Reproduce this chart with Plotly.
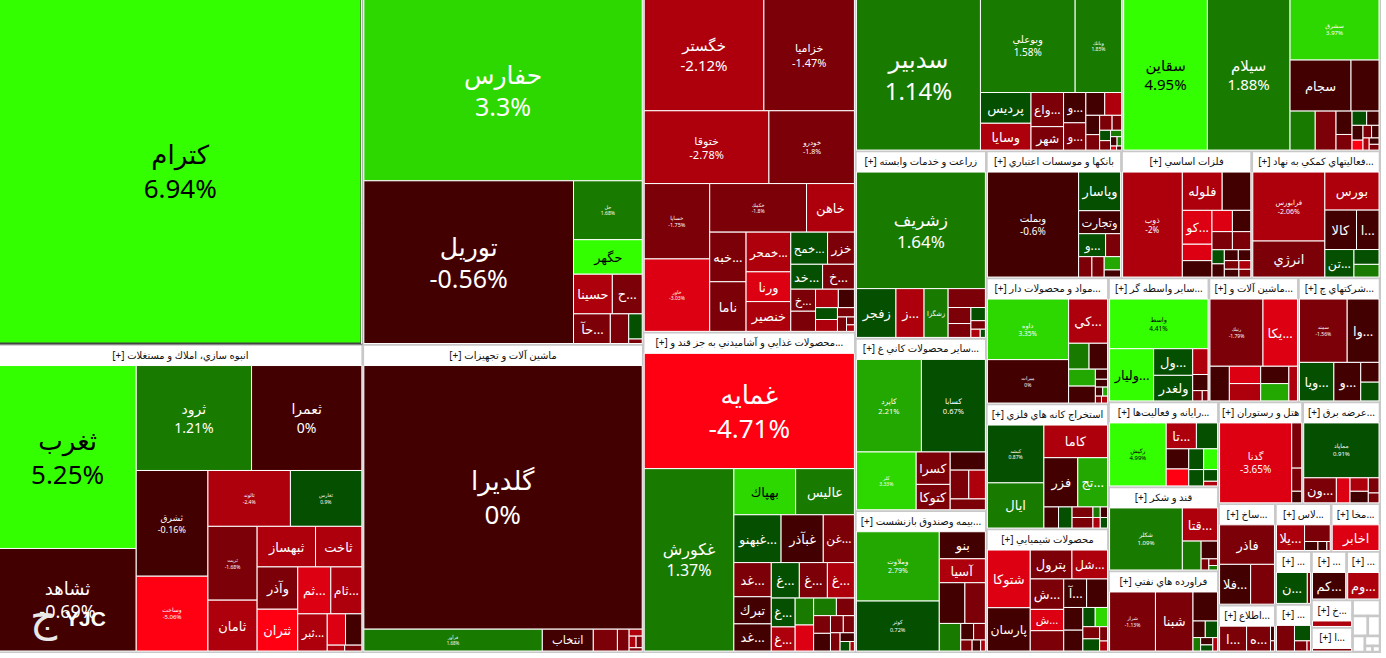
import plotly.graph_objects as go

# Market map of one trading day: sectors hold symbols, tile area is market value,
# tile colour is the daily change in percent.

# Values are market-value weights, changes are daily percentages.
s01_name = ""
s01_labels = ["كترام", "", ""]
s01_values = [123500, 82, 44]
s01_changes = [6.94, -1.5, 1.5]

s02_name = "انبوه سازي، املاك و مستغلات"
s02_labels = ["ثغرب", "ثشاهد", "ثرود", "ثعمرا", "ثشرق", "وساخت", "ثالوند", "ثغارس", "ثريت", "ثامان", "ثبهساز", "ثاخت", "وآذر", "ثتران", "ثم...", "ثام...", "ثبر...", "", "", "", ""]
s02_values = [24570, 13770, 11845, 11330, 7420, 5250, 4510, 3905, 3552, 2448, 2320, 1840, 1680, 1660, 1518, 1426, 1073, 560, 500, 100, 98]
s02_changes = [5.25, -0.69, 1.21, 0, -0.16, -5.06, -2.4, 0.9, -1.68, -2.5, -2.5, -2.5, -1.5, -4.5, -3.5, -2.5, -2.5, -3.5, -0.5, -2.5, -1.5]

s03_name = ""
s03_labels = ["حفارس", "توريل", "حل", "حگهر", "حسينا", "ح...", "حآ...", "", "", ""]
s03_values = [50040, 33741, 4002, 2346, 1521, 1170, 1080, 540, 336, 60]
s03_changes = [3.3, -0.56, 1.68, 4.5, -2.5, -1.5, -1.5, -1.5, 0.5, -1.5]

s04_name = "ماشين آلات و تجهيزات"
s04_labels = ["گلديرا", "فرآور", "انتخاب", "", "", "", "", "", ""]
s04_values = [72558, 3850, 1100, 520, 253, 90, 80, 70, 42]
s04_changes = [0, 1.68, -0.5, -1.5, -1.5, -2.5, -2.5, -1.5, -1.5]

s05_name = ""
s05_labels = ["خگستر", "خزاميا", "ختوقا", "خودرو", "خساپا", "خكمك", "خاهن", "خاور", "خبه...", "ناما", "خمحر...", "ورنا", "خنصير", "خمح...", "خزر", "خد...", "خ...", "خ...", "", "", "", "", "", "", "", "", ""]
s05_values = [12971, 9810, 8804, 6035, 4788, 4559, 2256, 4599, 1750, 1750, 1720, 1290, 1290, 1147, 837, 768, 768, 529, 408, 288, 483, 252, 154, 126, 252, 60, 50]
s05_changes = [-2.12, -1.47, -2.78, -1.8, -1.75, -1.8, -2.5, -3.03, -1.5, -1.5, -2.5, -3.5, -2.5, 0.5, -1.5, 0.5, -1.5, -1.5, -2.5, -0.5, -1.5, 0.5, -1.5, -1.5, -2.5, -1.5, -2.5]

s06_name = "محصولات غذايي و آشاميدني به جز قند و..."
s06_labels = ["غمايه", "غكورش", "بهپاك", "عاليس", "غبهنو...", "غبآذر", "غن...", "غد...", "غ...", "غ...", "غ...", "تبرك", "غد...", "غ...", "غ...", "", "", "", "", "", "", "", "", "", "", "", ""]
s06_values = [23199, 15652, 2728, 2596, 2162, 1932, 1426, 1224, 952, 952, 918, 972, 972, 660, 550, 476, 459, 384, 304, 285, 285, 210, 182, 168, 120, 90, 40]
s06_changes = [-4.71, 1.37, 3.5, 1.5, 0.5, -0.5, -1.5, -1.5, 0.5, -1.5, -2.5, -0.5, -0.5, 0.5, -2.5, 1.5, -3.5, 1.5, -1.5, -1.5, -0.5, -1.5, -1.5, -1.5, -0.5, 0.5, -2.5]

s07_name = ""
s07_labels = ["سدبير", "وبوعلي", "وبانك", "پرديس", "واع...", "وسايا", "شهر", "و...", "و...", "", "", "", "", "", "", "", "", "", "", "", "", ""]
s07_values = [18300, 8650, 4250, 1519, 1085, 1323, 744, 660, 594, 420, 378, 260, 208, 182, 140, 100, 70, 60, 110, 42, 24, 20]
s07_changes = [1.14, 1.58, 1.85, 0.5, -1.5, -2.5, -1.5, -0.5, -1.5, -0.5, -2.5, -0.5, -1.5, -1.5, -1.5, -1.5, 1.5, -0.5, 0.5, 1.5, -3.5, -0.5]

s08_name = ""
s08_labels = ["سقاين", "سيلام", "سشرق", "سجام", "", "", "", "", "", "", "", "", "", "", "", "", "", ""]
s08_values = [12150, 12000, 5220, 2989, 1372, 943, 779, 360, 240, 200, 169, 156, 104, 104, 90, 72, 54, 60]
s08_changes = [4.95, 1.88, 3.97, -0.5, -0.5, 1.5, -1.5, -0.5, -1.5, 0.5, -0.5, -0.5, -4.5, -1.5, -0.5, -2.5, -1.5, -0.5]

s09_name = "زراعت و خدمات وابسته"
s09_labels = ["زشريف", "زفجر", "ز...", "زشگزا", "", "", "", "", "", "", ""]
s09_values = [14208, 1824, 1296, 1110, 666, 345, 299, 180, 117, 72, 40]
s09_changes = [1.64, 0.5, -2.5, 1.5, -1.5, -1.5, -1.5, 0.5, -1.5, -2.5, 0.5]

s10_name = "ساير محصولات كاني غ..."
s10_labels = ["كاپرد", "كسابا", "كلر", "كسرا", "كتوكا", "", "", "", ""]
s10_values = [5760, 5670, 3306, 1056, 825, 612, 513, 459, 363]
s10_changes = [2.21, 0.67, 3.33, -1.5, -1.5, -0.5, -1.5, -2.5, -1.5]

s11_name = "بيمه وصندوق بازنشست..."
s11_labels = ["وملاوت", "كوثر", "بنو", "آسيا", "", "", "", "", "", "", "", ""]
s11_values = [5508, 3969, 1196, 1058, 1000, 800, 567, 204, 187, 120, 90, 50]
s11_changes = [2.79, 0.72, -0.5, -2.5, -0.5, -1.5, 1.5, -0.5, -1.5, -1.5, -0.5, -2.5]

s12_name = "بانكها و موسسات اعتباري"
s12_labels = ["وبملت", "وپاسار", "وتجارت", "و...", "", "", "", "", ""]
s12_values = [9167, 1554, 924, 594, 330, 260, 240, 208, 112]
s12_changes = [-0.6, 0.5, -0.5, 0.5, -1.5, -1.5, -1.5, 2.5, -0.5]

s13_name = "فلزات اساسي"
s13_labels = ["ذوب", "فلوله", "", "كو...", "", "", "", "", "", "", "", "", "", "", "", "", "", ""]
s13_values = [5768, 1404, 1008, 924, 448, 448, 400, 360, 340, 306, 160, 150, 140, 125, 115, 105, 95, 85]
s13_changes = [-2, -2.5, -0.5, -3.5, -3.5, -0.5, -3.5, -0.5, -1.5, -1.5, 0.5, -0.5, -0.5, -0.5, -1.5, -0.5, -2.5, -1.5]

s14_name = "فعاليتهاي كمكي به نهاد..."
s14_labels = ["فرابورس", "انرژي", "بورس", "كالا", "ا...", "تن...", "", ""]
s14_values = [4690, 2450, 1944, 1178, 836, 756, 350, 300]
s14_changes = [-2.06, -1.5, -2.5, -0.5, -0.5, 0.5, 0.5, 1.5]

s15_name = "مواد و محصولات دار..."
s15_labels = ["داوه", "ميرات", "كي...", "", "", "", "", "", "", "", "", "", ""]
s15_values = [4680, 3354, 1640, 504, 456, 432, 432, 117, 91, 63, 42, 40, 40]
s15_changes = [3.35, 0, -2.5, 1.5, -0.5, 2.5, -0.5, -0.5, -0.5, -0.5, 2.5, -1.5, -2.5]

s16_name = "استخراج كانه هاي فلزي"
s16_labels = ["كبشد", "ايال", "كاما", "فزر", "تج...", "", "", "", "", "", "", "", ""]
s16_values = [2970, 2322, 1890, 1518, 1334, 280, 260, 200, 200, 70, 70, 70, 70]
s16_changes = [0.87, 1.5, -2.5, -0.5, 2.5, -0.5, 0.5, -1.5, -1.5, 1.5, -0.5, -2.5, 0.5]

s17_name = "محصولات شيميايي"
s17_labels = ["شتوكا", "پارسان", "پترول", "شل...", "ش...", "ش...", "", "", "آ...", "", "", "", "", "", "", "", ""]
s17_values = [2184, 1638, 1066, 910, 900, 630, 600, 528, 576, 384, 352, 210, 180, 210, 180, 100, 70]
s17_changes = [-3.5, -0.5, -1.5, -2.5, -1.5, -3.5, -1.5, -0.5, -0.5, -0.5, -0.5, 0.5, -1.5, 3.5, 0.5, -1.5, -2.5]

s18_name = "ساير واسطه گر..."
s18_labels = ["واسط", "وليار...", "ول...", "ولغدر", "", "", "", ""]
s18_values = [4462, 2100, 950, 912, 360, 225, 90, 54]
s18_changes = [4.41, 4.5, 0.5, 0.5, -2.5, -0.5, -1.5, -1.5]

s19_name = "ماشين آلات و..."
s19_labels = ["رنيك", "يكا...", "", "", "", "", "", ""]
s19_values = [3150, 2050, 594, 480, 432, 480, 432, 264]
s19_changes = [-1.79, -3.5, -0.5, -3.5, -0.5, -2.5, 2.5, -2.5]

s20_name = "شركتهاي چ..."
s20_labels = ["سمند", "وا...", "ويا...", "و...", "", ""]
s20_values = [2700, 1800, 1184, 925, 323, 306]
s20_changes = [-1.56, -0.5, 0.5, -0.5, -0.5, 0.5]

s21_name = "رايانه و فعاليت‌ها..."
s21_labels = ["ركيش", "تا...", "", "", "", "", "", "", "", ""]
s21_values = [3286, 720, 504, 418, 352, 285, 266, 224, 150, 60]
s21_changes = [4.99, -2.5, 0.5, -0.5, -4.5, 0.5, 4.5, 0.5, 0.5, -2.5]

s22_name = "قند و شكر"
s22_labels = ["شكلر", "قتا...", "", "", "", "", ""]
s22_values = [4200, 1085, 504, 272, 80, 54, 36]
s22_changes = [1.09, -2.5, 1.5, -0.5, -1.5, -1.5, 1.5]

s23_name = "فراورده هاي نفتي"
s23_labels = ["شراز", "شبنا", "", "", "", "", "", "", ""]
s23_values = [2552, 2088, 672, 192, 192, 96, 84, 70, 60]
s23_changes = [-1.13, -1.5, -0.5, -0.5, 0.5, 1.5, -0.5, 0.5, -2.5]

s24_name = "هتل و رستوران"
s24_labels = ["گدنا", "", "", ""]
s24_values = [5460, 430, 220, 110]
s24_changes = [-3.65, -1.5, -1.5, -0.5]

s25_name = "عرضه برق..."
s25_labels = ["مماپاد", "ون...", "", "", "", "", ""]
s25_values = [3922, 775, 325, 234, 154, 200, 100]
s25_changes = [0.91, -1.5, -3.5, -2.5, -1.5, -0.5, -1.5]

s26_name = "ساخ..."
s26_labels = ["فاذر", "فلا...", ""]
s26_values = [2052, 1170, 897]
s26_changes = [-1.5, -0.5, -1.5]

s27_name = "اطلاع..."
s27_labels = ["ا...", "ه...", "", ""]
s27_values = [598, 529, 52, 36]
s27_changes = [-1.5, -1.5, -0.5, -1.5]

s28_name = "لاس..."
s28_labels = ["يلا...", "", "", "", ""]
s28_values = [648, 384, 108, 72, 27]
s28_changes = [-2.5, -1.5, -0.5, -0.5, -1.5]

s29_name = "مخا..."
s29_labels = ["اخابر"]
s29_values = [1080]
s29_changes = [-3.5]

s30_name = "..."
s30_labels = ["ن...", ""]
s30_values = [868, 90]
s30_changes = [0.5, -1.5]

s31_name = "..."
s31_labels = ["كم..."]
s31_values = [992]
s31_changes = [-0.5]

s32_name = "..."
s32_labels = ["وم..."]
s32_values = [930]
s32_changes = [-2.5]

s33_name = "..."
s33_labels = ["", "", "", ""]
s33_values = [391, 210, 108, 30]
s33_changes = [-1.5, 0.5, -1.5, -2.5]

s34_name = "خ..."
s34_labels = [""]
s34_values = [190]
s34_changes = [-2.5]

s35_name = "ا..."
s35_labels = [""]
s35_values = [120]
s35_changes = [-1.5]

s36_name = ""
s36_labels = [""]
s36_values = [30]
s36_changes = [-2.5]

s37_name = ""
s37_labels = [""]
s37_values = [25]
s37_changes = [-2.5]

s38_name = ""
s38_labels = [""]
s38_values = [20]
s38_changes = [-2.5]

s39_name = ""
s39_labels = [""]
s39_values = [18]
s39_changes = [-2.5]

s40_name = ""
s40_labels = [""]
s40_values = [15]
s40_changes = [-2.5]

s41_name = ""
s41_labels = [""]
s41_values = [10]
s41_changes = [-2.5]

s42_name = ""
s42_labels = [""]
s42_values = [9]
s42_changes = [-2.5]

# Overall market value of each sector, including the room of its title strip.
sector_totals = [132492, 111134, 101800, 85400, 74500, 67200, 45828, 44118,
                 24310, 22360, 18330, 17010, 16380, 16128, 15250, 15128, 14884,
                 12322, 10980, 10004, 9265, 9156, 8829, 8500, 7800, 5712, 2640,
                 2632, 2303, 1890, 1690, 1600, 1700, 1120, 1000, 435, 300, 240, 195, 150, 45, 44]

sector_parts = [
    (s01_name, s01_labels, s01_values, s01_changes),
    (s02_name, s02_labels, s02_values, s02_changes),
    (s03_name, s03_labels, s03_values, s03_changes),
    (s04_name, s04_labels, s04_values, s04_changes),
    (s05_name, s05_labels, s05_values, s05_changes),
    (s06_name, s06_labels, s06_values, s06_changes),
    (s07_name, s07_labels, s07_values, s07_changes),
    (s08_name, s08_labels, s08_values, s08_changes),
    (s09_name, s09_labels, s09_values, s09_changes),
    (s10_name, s10_labels, s10_values, s10_changes),
    (s11_name, s11_labels, s11_values, s11_changes),
    (s12_name, s12_labels, s12_values, s12_changes),
    (s13_name, s13_labels, s13_values, s13_changes),
    (s14_name, s14_labels, s14_values, s14_changes),
    (s15_name, s15_labels, s15_values, s15_changes),
    (s16_name, s16_labels, s16_values, s16_changes),
    (s17_name, s17_labels, s17_values, s17_changes),
    (s18_name, s18_labels, s18_values, s18_changes),
    (s19_name, s19_labels, s19_values, s19_changes),
    (s20_name, s20_labels, s20_values, s20_changes),
    (s21_name, s21_labels, s21_values, s21_changes),
    (s22_name, s22_labels, s22_values, s22_changes),
    (s23_name, s23_labels, s23_values, s23_changes),
    (s24_name, s24_labels, s24_values, s24_changes),
    (s25_name, s25_labels, s25_values, s25_changes),
    (s26_name, s26_labels, s26_values, s26_changes),
    (s27_name, s27_labels, s27_values, s27_changes),
    (s28_name, s28_labels, s28_values, s28_changes),
    (s29_name, s29_labels, s29_values, s29_changes),
    (s30_name, s30_labels, s30_values, s30_changes),
    (s31_name, s31_labels, s31_values, s31_changes),
    (s32_name, s32_labels, s32_values, s32_changes),
    (s33_name, s33_labels, s33_values, s33_changes),
    (s34_name, s34_labels, s34_values, s34_changes),
    (s35_name, s35_labels, s35_values, s35_changes),
    (s36_name, s36_labels, s36_values, s36_changes),
    (s37_name, s37_labels, s37_values, s37_changes),
    (s38_name, s38_labels, s38_values, s38_changes),
    (s39_name, s39_labels, s39_values, s39_changes),
    (s40_name, s40_labels, s40_values, s40_changes),
    (s41_name, s41_labels, s41_values, s41_changes),
    (s42_name, s42_labels, s42_values, s42_changes),
]

# Symbols whose change is printed under the name, with their type size.
change_label_px = {
    "كترام": 26, "ثغرب": 26, "ثشاهد": 18, "ثرود": 14, "ثعمرا": 14, "ثشرق": 9, "وساخت": 6,
    "ثالوند": 5, "ثغارس": 5, "ثريت": 5, "حفارس": 25, "توريل": 25, "حل": 5, "گلديرا": 26,
    "فرآور": 4.5, "خگستر": 15, "خزاميا": 11, "ختوقا": 11, "خودرو": 7, "خساپا": 5.5, "خكمك": 5,
    "خاور": 5, "غمايه": 26, "غكورش": 16, "سدبير": 24, "وبوعلي": 10, "وبانك": 5, "سقاين": 15,
    "سيلام": 15, "سشرق": 6, "زشريف": 17, "كاپرد": 7.5, "كسابا": 7.5, "كلر": 5, "وملاوت": 7,
    "كوثر": 5.5, "وبملت": 10, "ذوب": 8, "فرابورس": 7, "داوه": 6.5, "ميرات": 5, "كبشد": 5,
    "واسط": 6.5, "رنيك": 5, "سمند": 5, "ركيش": 6, "شكلر": 6, "شراز": 5, "گدنا": 10, "مماپاد": 6,
}
black_text = {"كترام", "ثغرب", "سقاين", "حگهر", "بهپاك", "وليار...", "واسط", "ركيش"}

FRAME_GREY = "#c8c8c8"


def tile_colour(change):
    if change >= 4:
        return "#33ff00"
    if change >= 3:
        return "#2dd800"
    if change >= 2:
        return "#22a800"
    if change >= 1:
        return "#197a00"
    if change > 0:
        return "#044f00"
    if change > -1:
        return "#430000"
    if change > -2:
        return "#7b0008"
    if change > -3:
        return "#ad000c"
    if change > -4:
        return "#dc0012"
    return "#ff0012"


ids, parents, labels, values, texts = [], [], [], [], []
colours, line_colours, line_widths, sizes, text_colours = [], [], [], [], []

for s, (total, (name, names, raw, changes)) in enumerate(zip(sector_totals, sector_parts, strict=True)):
    sid = f"sector-{s}"
    title = f"[+] {name}" if name else " "
    ids.append(sid)
    parents.append("")
    labels.append(title)
    values.append(0)
    texts.append(title)
    colours.append("#ffffff")
    line_colours.append(FRAME_GREY)
    line_widths.append(2.5)
    sizes.append(10)
    text_colours.append("#111111")
    scale = total / sum(raw)
    for t, (label, value, change) in enumerate(zip(names, raw, changes, strict=True)):
        tid = f"{sid}-{t}"
        ids.append(tid)
        parents.append(sid)
        labels.append(label or " ")
        values.append(value * scale)
        if label in change_label_px:
            texts.append(f"{label}<br>{change:g}%")
            sizes.append(change_label_px[label])
        else:
            texts.append(label)
            sizes.append(13)
        colours.append(tile_colour(change))
        line_colours.append("#ffffff")
        line_widths.append(1)
        text_colours.append("#000000" if label in black_text else "#ffffff")

fig = go.Figure(go.Treemap(
    ids=ids,
    labels=labels,
    parents=parents,
    values=values,
    text=texts,
    textinfo="text",
    branchvalues="remainder",
    sort=True,
    tiling=dict(packing="squarify", squarifyratio=1, pad=0),
    marker=dict(
        colors=colours,
        line=dict(color=line_colours, width=line_widths),
        pad=dict(t=21, l=1, r=1, b=1),
        depthfade=False,
    ),
    pathbar=dict(visible=False),
    textposition="middle center",
    textfont=dict(family="Noto Sans, DejaVu Sans", size=sizes, color=text_colours),
    insidetextfont=dict(family="Noto Sans, DejaVu Sans", size=sizes, color=text_colours),
    outsidetextfont=dict(family="Noto Sans, DejaVu Sans", size=sizes, color=text_colours),
    hoverinfo="skip",
))

CANVAS_W, CANVAS_H, HIDDEN_TOP, HIDDEN_LEFT = 1384, 696, 43, 3

# Site watermark in the lower left corner.
fig.add_annotation(text="<b>YJC</b>", x=(85 + HIDDEN_LEFT) / CANVAS_W, y=1 - (618 + HIDDEN_TOP) / CANVAS_H,
                   xref="paper", yref="paper", showarrow=False, xanchor="center", yanchor="middle",
                   font=dict(family="Liberation Sans", size=21, color="#ffffff"))
fig.add_annotation(text="ج", x=(44 + HIDDEN_LEFT) / CANVAS_W, y=1 - (616 + HIDDEN_TOP) / CANVAS_H,
                   xref="paper", yref="paper", showarrow=False, xanchor="center", yanchor="middle",
                   font=dict(family="DejaVu Sans", size=42, color="#e8e8e8"))

fig.update_layout(
    width=CANVAS_W,
    height=CANVAS_H,
    margin=dict(l=0, r=0, t=0, b=0),
    paper_bgcolor="#ffffff",
)

# The top row's title strips sit above the visible page.
fig.write_html(
    "out.html",
    post_script=(
        "document.body.style.overflow='hidden';"
        f"document.getElementById('{{plot_id}}').style.margin='-{HIDDEN_TOP}px 0 0 -{HIDDEN_LEFT}px';"
    ),
)
